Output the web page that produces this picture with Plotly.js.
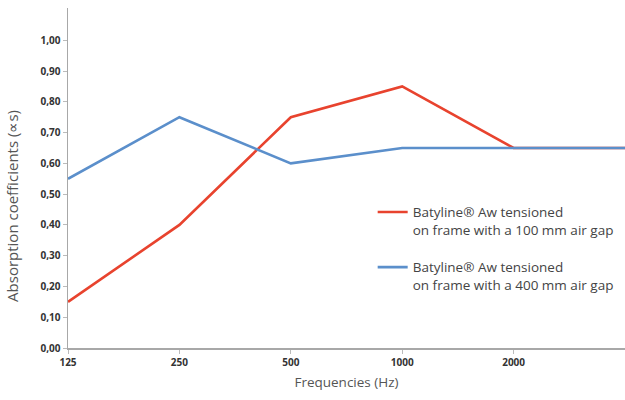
<!DOCTYPE html>
<html>
<head>
<meta charset="utf-8">
<script src="https://cdn.plot.ly/plotly-3.0.1.min.js"></script>
<style>html,body{margin:0;padding:0;background:#fff;}#chart{width:625px;height:400px;}</style>
</head>
<body>
<div id="chart"></div>
<script>
var frequencies = ['125', '250', '500', '1000', '2000', '4000'];
var tickLabels = ['125', '250', '500', '1000', '2000'];
var gap100 = [0.15, 0.40, 0.75, 0.85, 0.65, 0.65];
var gap400 = [0.55, 0.75, 0.60, 0.65, 0.65, 0.65];
var seriesNames = [
  'Batyline\u00AE Aw tensioned<br>on frame with a 100 mm air gap',
  'Batyline\u00AE Aw tensioned<br>on frame with a 400 mm air gap'
];
var yTitle = 'Absorption coefficients (\u221Ds)';
var xTitle = 'Frequencies (Hz)';

var traces = [
  {x: frequencies, y: gap100, type: 'scatter', mode: 'lines', name: seriesNames[0],
   legendgroup: 'g100', line: {color: '#e8432e', width: 2.6}},
  {x: frequencies, y: gap400, type: 'scatter', mode: 'lines', name: seriesNames[1],
   legendgroup: 'g400', line: {color: '#5b8fcb', width: 2.6}}
];

var layout = {
  width: 625, height: 400,
  margin: {l: 68, r: 0, t: 8, b: 52, autoexpand: false},
  paper_bgcolor: '#fff', plot_bgcolor: '#fff',
  separators: ', ',
  showlegend: true,
  legend: {
    x: 0.547, y: 0.445, xanchor: 'left', yanchor: 'top',
    font: {family: 'Open Sans, sans-serif', size: 13.5, color: '#444'},
    bgcolor: 'rgba(0,0,0,0)', tracegroupgap: 17, itemwidth: 30, valign: 'top'
  },
  xaxis: {
    type: 'category', categoryorder: 'array', categoryarray: frequencies,
    range: [0, 5],
    tickvals: tickLabels, ticktext: tickLabels,
    showgrid: false, zeroline: false,
    showline: true, linecolor: '#a8a8a8', linewidth: 1.5,
    ticks: 'outside', ticklen: 4, tickcolor: '#bbb', tickwidth: 1,
    tickfont: {family: 'Open Sans, sans-serif', size: 10, color: '#333', weight: 'bold'},
    title: {text: xTitle, standoff: 10,
            font: {family: 'Open Sans, sans-serif', size: 13.5, color: '#555'}}
  },
  yaxis: {
    range: [0, 1.105],
    tickvals: [0, 0.1, 0.2, 0.3, 0.4, 0.5, 0.6, 0.7, 0.8, 0.9, 1.0],
    tickformat: '.2f',
    showgrid: false, zeroline: false,
    showline: true, linecolor: '#a8a8a8', linewidth: 1.5,
    ticks: 'outside', ticklen: 4, tickcolor: '#bbb', tickwidth: 1,
    tickfont: {family: 'Open Sans, sans-serif', size: 10, color: '#333', weight: 'bold'}
  },
  annotations: [{
    text: yTitle, textangle: -90, showarrow: false,
    xref: 'paper', yref: 'paper', x: -0.1005, y: 0.418,
    xanchor: 'center', yanchor: 'middle',
    font: {family: 'Open Sans, sans-serif', size: 15, color: '#555'}
  }]
};

Plotly.newPlot('chart', traces, layout, {displayModeBar: false, staticPlot: true});
</script>
</body>
</html>
